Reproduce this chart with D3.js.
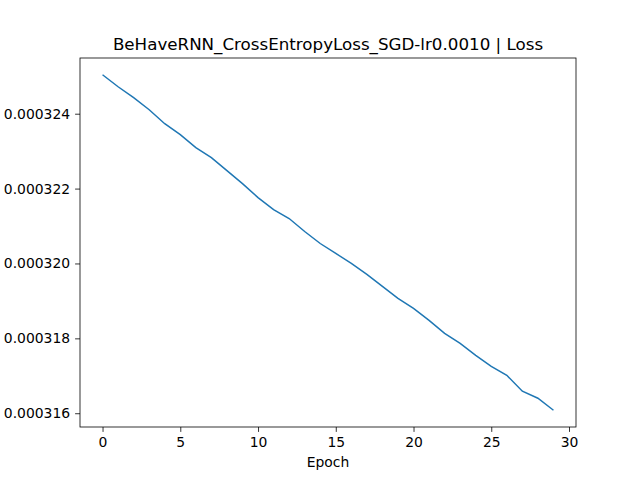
<!DOCTYPE html>
<html>
<head>
<meta charset="utf-8">
<script src="https://cdn.jsdelivr.net/npm/d3@7"></script>
<style>
  body { margin: 0; background: #fff; }
  text { font-family: "DejaVu Sans", sans-serif; }
</style>
</head>
<body>
<svg id="chart" width="640" height="480"></svg>
<script>
// data
const epochs = d3.range(0, 30);
const loss = [
  3.25040e-4, 3.24720e-4, 3.24427e-4, 3.24107e-4, 3.23733e-4, 3.23440e-4,
  3.23093e-4, 3.22827e-4, 3.22480e-4, 3.22133e-4, 3.21760e-4, 3.21440e-4,
  3.21200e-4, 3.20853e-4, 3.20533e-4, 3.20267e-4, 3.20000e-4, 3.19707e-4,
  3.19387e-4, 3.19067e-4, 3.18800e-4, 3.18480e-4, 3.18133e-4, 3.17867e-4,
  3.17547e-4, 3.17253e-4, 3.17013e-4, 3.16587e-4, 3.16400e-4, 3.16080e-4
];
const xTicks = [0, 5, 10, 15, 20, 25, 30];
const yTicks = [0.000316, 0.000318, 0.000320, 0.000322, 0.000324];
const title = "BeHaveRNN_CrossEntropyLoss_SGD-lr0.0010 | Loss";

const margin = {top: 58, right: 64, bottom: 53, left: 80};
const width = 640 - margin.left - margin.right;
const height = 480 - margin.top - margin.bottom;

const svg = d3.select("#chart")
  .append("g")
  .attr("transform", `translate(${margin.left},${margin.top})`);

// 5% padding like matplotlib
const lo = d3.min(loss), hi = d3.max(loss), pad = (hi - lo) * 0.05;
const x = d3.scaleLinear().domain([-1.45, 30.45]).range([0, width]);
const y = d3.scaleLinear().domain([lo - pad, hi + pad]).range([height, 0]);

const xAxis = svg.append("g")
  .attr("transform", `translate(0,${height})`)
  .call(d3.axisBottom(x).tickValues(xTicks).tickSize(4.9).tickPadding(5));
const yAxis = svg.append("g")
  .call(d3.axisLeft(y).tickValues(yTicks).tickSize(4.9).tickPadding(5).tickFormat(d3.format(".6f")));

[xAxis, yAxis].forEach(a => {
  a.select(".domain").remove();
  a.selectAll("text").style("font-size", "13.9px").attr("fill", "#000").style("font-family", "DejaVu Sans");
  a.selectAll("line").attr("stroke", "#000").attr("stroke-width", 0.8);
});

svg.append("path")
  .datum(epochs)
  .attr("fill", "none")
  .attr("stroke", "#1f77b4")
  .attr("stroke-width", 1.5)
  .attr("d", d3.line().x(d => x(d)).y(d => y(loss[d])));

svg.append("rect")
  .attr("width", width).attr("height", height)
  .attr("fill", "none").attr("stroke", "#000").attr("stroke-width", 0.8);

svg.append("text")
  .attr("x", width / 2).attr("y", height + 40)
  .attr("text-anchor", "middle")
  .style("font-size", "13.9px")
  .text("Epoch");

svg.append("text")
  .attr("x", width / 2).attr("y", -8)
  .attr("text-anchor", "middle")
  .style("font-size", "16.7px")
  .text(title);
</script>
</body>
</html>
